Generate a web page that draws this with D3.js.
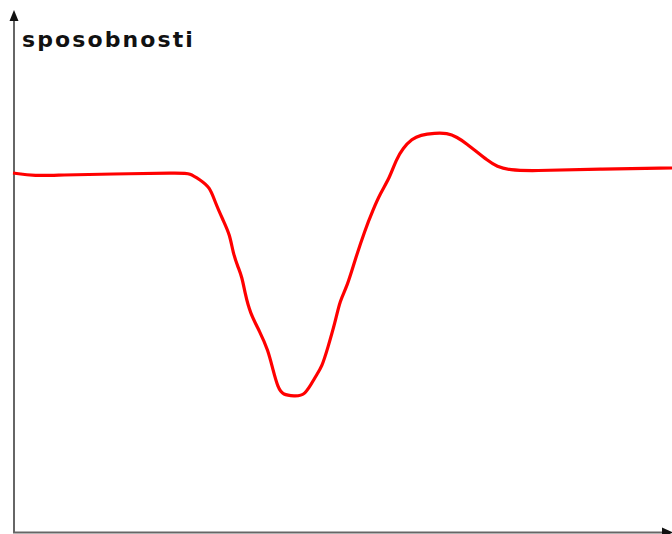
<!DOCTYPE html>
<html><head><meta charset="utf-8">
<script src="https://cdn.jsdelivr.net/npm/d3@7"></script>
<style>html,body{margin:0;padding:0;background:#fff;}svg{display:block;}</style>
</head><body>
<script>
// time (arbitrary units) and ability level (arbitrary units)
const timeVals = [0,22,47,97,167,177,187,197,202,210,217,220,225,229,232,237,247,255,260,265,270,281,292,302,309,315,322,327,334,342,352,360,367,377,383,390,399,407,422,434,444,454,464,474,484,497,517,587,659];
const abilityVals = [358,355,356,357,358,358,351,344,329,311,296,278,264,254,238,218,199,181,161,143,136,135,135,154,164,184,208,231,244,271,301,321,337,354,371,383,392,396,398,398,394,387,379,371,364,361,360,362,363];
const yLabel = "sposobnosti";

const W = 672, H = 534;
const svg = d3.select("body").append("svg").attr("width", W).attr("height", H);

const x = d3.scaleLinear().domain([0, 659]).range([13, 672]);
const y = d3.scaleLinear().domain([0, 519]).range([531, 12]);

// axes
svg.append("line").attr("x1", 14).attr("x2", 14).attr("y1", 18).attr("y2", 533)
  .attr("stroke", "#666").attr("stroke-width", 2);
svg.append("line").attr("x1", 13).attr("x2", 666).attr("y1", 532.5).attr("y2", 532.5)
  .attr("stroke", "#666").attr("stroke-width", 2);
svg.append("path").attr("d", "M14,10 L9.5,21 L18.5,21 Z").attr("fill", "#111");
svg.append("path").attr("d", "M673,532.5 L662,527.5 L662,537.5 Z").attr("fill", "#111");

svg.append("text").attr("x", 22).attr("y", 47)
  .attr("font-family", "DejaVu Sans").attr("font-weight", "bold").attr("font-size", 22)
  .attr("letter-spacing", "2.1px").attr("fill", "#111").text(yLabel);

const data = timeVals.map((t, i) => [t, abilityVals[i]]);
const line = d3.line().x(d => x(d[0])).y(d => y(d[1])).curve(d3.curveBasis);
svg.append("path").datum(data).attr("d", line).attr("fill", "none")
  .attr("stroke", "#ff0000").attr("stroke-width", 3.2).attr("stroke-linejoin", "round");
</script>
</body></html>
